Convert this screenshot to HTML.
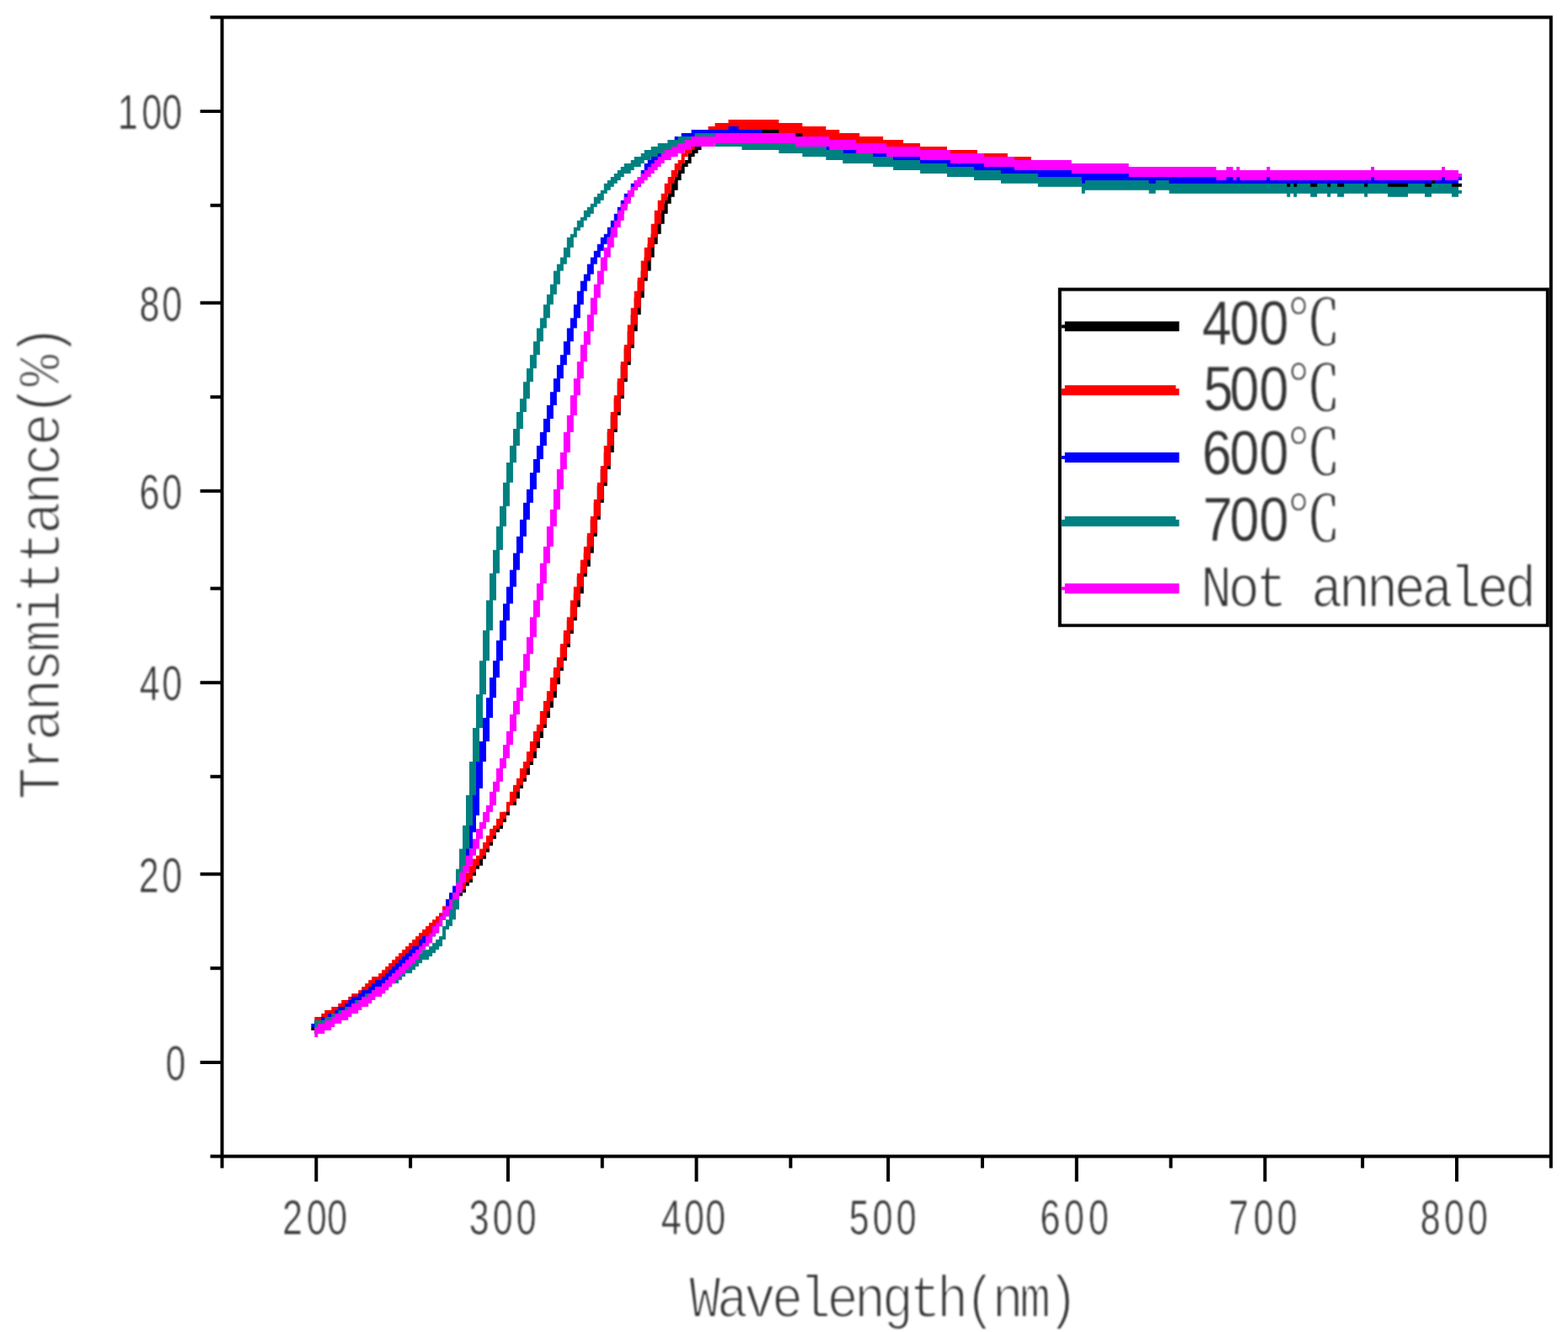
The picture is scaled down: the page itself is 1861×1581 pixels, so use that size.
<!DOCTYPE html>
<html lang="en">
<head>
<meta charset="utf-8">
<title>Transmittance vs Wavelength</title>
<style>
html,body{margin:0;padding:0;background:#fff;}
body{width:1861px;height:1581px;overflow:hidden;}
svg{display:block;}
.mono{font-family:"Liberation Mono",monospace;}
.num{font-family:"Liberation Sans",sans-serif;}
.leg{font-family:"Liberation Sans","Noto Serif CJK SC",sans-serif;}
</style>
</head>
<body>
<svg width="1861" height="1581" viewBox="0 0 1861 1581">
<defs>
<filter id="soft" color-interpolation-filters="sRGB" x="-2%" y="-2%" width="104%" height="104%"><feGaussianBlur stdDeviation="0.45"/></filter>
<filter id="softtext" color-interpolation-filters="sRGB" x="-5%" y="-5%" width="110%" height="110%"><feGaussianBlur stdDeviation="0.9"/></filter>
</defs>
<rect width="1861" height="1581" fill="#fff"/>
<g id="axes" filter="url(#soft)">
<path fill="#000" d="M261.55 18.44H265.54V1386.53H261.55zM1838.78 18.44H1842.77V1386.53H1838.78zM249.57 18.44H1842.77V22.43H249.57zM249.57 1370.58H1842.77V1374.57H249.57zM237.59 1258.9H261.55V1262.89H237.59zM237.59 1035.54H261.55V1039.53H237.59zM237.59 808.19H261.55V812.18H237.59zM237.59 580.84H261.55V584.83H237.59zM237.59 357.48H261.55V361.46H237.59zM237.59 130.13H261.55V134.11H237.59zM249.57 1147.22H261.55V1151.21H249.57zM249.57 919.87H261.55V923.86H249.57zM249.57 696.51H261.55V700.5H249.57zM249.57 469.16H261.55V473.14H249.57zM249.57 241.81H261.55V245.79H249.57zM373.35 1374.57H377.34V1402.49H373.35zM600.95 1374.57H604.94V1402.49H600.95zM824.56 1374.57H828.55V1402.49H824.56zM1052.16 1374.57H1056.15V1402.49H1052.16zM1275.77 1374.57H1279.76V1402.49H1275.77zM1499.38 1374.57H1503.37V1402.49H1499.38zM1726.98 1374.57H1730.97V1402.49H1726.98zM485.15 1374.57H489.15V1386.53H485.15zM712.75 1374.57H716.75V1386.53H712.75zM936.36 1374.57H940.36V1386.53H936.36zM1163.96 1374.57H1167.96V1386.53H1163.96zM1387.57 1374.57H1391.56V1386.53H1387.57zM1615.17 1374.57H1619.16V1386.53H1615.17z"/>
</g>
<g id="curves" filter="url(#soft)">
<path fill="#000000" d="M369.36 1219.01H373.35V1223H369.36zM373.35 1215.02H381.33V1226.99H373.35zM381.33 1211.04H385.33V1223H381.33zM385.33 1207.05H393.31V1219.01H385.33zM393.31 1203.06H401.3V1215.02H393.31zM401.3 1199.07H405.29V1211.04H401.3zM405.29 1195.08H413.28V1207.05H405.29zM413.28 1191.09H417.27V1203.06H413.28zM417.27 1187.1H425.26V1199.07H417.27zM425.26 1183.12H429.25V1195.08H425.26zM429.25 1179.13H433.24V1191.09H429.25zM433.24 1175.14H437.24V1187.1H433.24zM437.24 1171.15H441.23V1183.12H437.24zM441.23 1167.16H449.22V1179.13H441.23zM449.22 1163.17H453.21V1175.14H449.22zM453.21 1159.18H457.2V1171.15H453.21zM457.2 1155.2H461.19V1167.16H457.2zM461.19 1151.21H465.19V1163.17H461.19zM465.19 1147.22H469.18V1159.18H465.19zM469.18 1143.23H473.17V1155.2H469.18zM473.17 1139.24H477.17V1151.21H473.17zM477.17 1135.25H481.16V1147.22H477.17zM481.16 1131.26H485.15V1143.23H481.16zM485.15 1127.28H489.15V1139.24H485.15zM489.15 1123.29H493.14V1135.25H489.15zM493.14 1119.3H497.13V1131.26H493.14zM497.13 1115.31H501.12V1127.28H497.13zM501.12 1111.32H505.12V1123.29H501.12zM505.12 1107.33H509.11V1119.3H505.12zM509.11 1103.34H513.1V1115.31H509.11zM513.1 1099.36H517.1V1111.32H513.1zM517.1 1095.37H521.09V1107.33H517.1zM521.09 1087.39H525.08V1099.36H521.09zM525.08 1079.41H529.08V1091.38H525.08zM529.08 1071.43H533.07V1083.4H529.08zM533.07 1067.45H537.06V1079.41H533.07zM537.06 1063.46H541.05V1075.42H537.06zM541.05 1055.48H545.05V1067.45H541.05zM545.05 1051.49H549.04V1063.46H545.05zM549.04 1047.5H553.03V1059.47H549.04zM553.03 1039.53H557.03V1051.49H553.03zM557.03 1031.55H561.02V1047.5H557.03zM561.02 1027.56H565.01V1039.53H561.02zM565.01 1019.58H569.01V1031.55H565.01zM569.01 1011.61H573V1027.56H569.01zM573 1003.63H576.99V1019.58H573zM576.99 995.65H580.99V1011.61H576.99zM580.99 987.67H584.98V1003.63H580.99zM584.98 983.69H588.97V995.65H584.98zM588.97 975.71H592.96V987.67H588.97zM592.96 967.73H596.96V983.69H592.96zM596.96 963.74H600.95V975.71H596.96zM600.95 955.77H604.94V967.73H600.95zM604.94 947.79H608.94V955.77H604.94zM608.94 935.82H612.93V955.77H608.94zM612.93 927.85H616.92V947.79H612.93zM616.92 919.87H620.91V935.82H616.92zM620.91 907.9H624.91V927.85H620.91zM624.91 899.92H628.9V919.87H624.91zM628.9 887.96H632.89V907.9H628.9zM632.89 875.99H636.89V899.92H632.89zM636.89 864.03H640.88V887.96H636.89zM640.88 852.06H644.87V875.99H640.88zM644.87 840.1H648.87V864.03H644.87zM648.87 828.13H652.86V852.06H648.87zM652.86 812.18H656.85V840.1H652.86zM656.85 796.22H660.85V828.13H656.85zM660.85 784.26H664.84V812.18H660.85zM664.84 768.3H668.83V796.22H664.84zM668.83 752.35H672.82V784.26H668.83zM672.82 736.39H676.82V768.3H672.82zM676.82 720.44H680.81V752.35H676.82zM680.81 704.48H684.8V736.39H680.81zM684.8 684.54H688.8V720.44H684.8zM688.8 672.57H692.79V704.48H688.8zM692.79 656.62H696.78V684.54H692.79zM696.78 636.68H700.77V672.57H696.78zM700.77 616.73H704.77V656.62H700.77zM704.77 596.79H708.76V636.68H704.77zM708.76 576.85H712.75V616.73H708.76zM712.75 556.91H716.75V596.79H712.75zM716.75 536.96H720.74V576.85H716.75zM720.74 513.03H724.73V556.91H720.74zM724.73 493.09H728.73V536.96H724.73zM728.73 473.14H732.72V513.03H728.73zM732.72 453.2H736.71V493.09H732.72zM736.71 433.26H740.7V473.14H736.71zM740.7 413.32H744.7V453.2H740.7zM744.7 393.37H748.69V433.26H744.7zM748.69 373.43H752.68V413.32H748.69zM752.68 353.49H756.68V393.37H752.68zM756.68 333.54H760.67V373.43H756.68zM760.67 321.58H764.66V353.49H760.67zM764.66 305.62H768.66V333.54H764.66zM768.66 289.67H772.65V321.58H768.66zM772.65 277.7H776.64V305.62H772.65zM776.64 265.74H780.63V289.67H776.64zM780.63 253.77H784.63V277.7H780.63zM784.63 241.81H788.62V265.74H784.63zM788.62 233.83H792.61V253.77H788.62zM792.61 225.85H796.61V241.81H792.61zM796.61 213.89H800.6V233.83H796.61zM800.6 205.91H804.59V225.85H800.6zM804.59 197.93H808.59V213.89H804.59zM808.59 193.94H812.58V205.91H808.59zM812.58 189.95H816.57V197.93H812.58zM816.57 181.98H820.56V193.94H816.57zM820.56 174H824.56V185.97H820.56zM824.56 170.01H828.55V181.98H824.56zM828.55 166.02H832.54V177.99H828.55zM832.54 162.03H840.53V174H832.54zM840.53 158.05H864.49V170.01H840.53zM864.49 154.06H884.45V166.02H864.49zM884.45 150.07H924.38V162.03H884.45zM924.38 154.06H956.33V166.02H924.38zM956.33 158.05H980.28V170.01H956.33zM980.28 162.03H992.26V174H980.28zM992.26 166.02H1012.23V177.99H992.26zM1012.23 170.01H1036.19V181.98H1012.23zM1036.19 174H1052.16V185.97H1036.19zM1052.16 177.99H1072.12V189.95H1052.16zM1072.12 181.98H1092.09V193.94H1072.12zM1092.09 185.97H1124.03V197.93H1092.09zM1124.03 189.95H1155.98V201.92H1124.03zM1155.98 193.94H1187.92V205.91H1155.98zM1187.92 197.93H1231.84V209.9H1187.92zM1231.84 201.92H1283.75V213.89H1231.84zM1283.75 205.91H1351.63V217.87H1283.75zM1351.63 209.9H1447.47V221.86H1351.63zM1447.47 213.89H1730.97V225.85H1447.47zM1730.97 217.87H1734.96V221.86H1730.97z"/>
<path fill="#ff0000" d="M373.35 1207.05H381.33V1219.01H373.35zM381.33 1203.06H385.33V1215.02H381.33zM385.33 1199.07H393.31V1211.04H385.33zM393.31 1195.08H401.3V1207.05H393.31zM401.3 1191.09H405.29V1203.06H401.3zM405.29 1187.1H413.28V1199.07H405.29zM413.28 1183.12H417.27V1195.08H413.28zM417.27 1179.13H425.26V1191.09H417.27zM425.26 1175.14H429.25V1187.1H425.26zM429.25 1171.15H433.24V1183.12H429.25zM433.24 1167.16H437.24V1179.13H433.24zM437.24 1163.17H441.23V1175.14H437.24zM441.23 1159.18H449.22V1171.15H441.23zM449.22 1155.2H453.21V1167.16H449.22zM453.21 1151.21H457.2V1163.17H453.21zM457.2 1147.22H461.19V1159.18H457.2zM461.19 1143.23H465.19V1155.2H461.19zM465.19 1139.24H469.18V1151.21H465.19zM469.18 1135.25H473.17V1147.22H469.18zM473.17 1131.26H477.17V1143.23H473.17zM477.17 1127.28H481.16V1139.24H477.17zM481.16 1123.29H485.15V1135.25H481.16zM485.15 1119.3H489.15V1131.26H485.15zM489.15 1115.31H493.14V1127.28H489.15zM493.14 1111.32H497.13V1123.29H493.14zM497.13 1107.33H501.12V1119.3H497.13zM501.12 1103.34H505.12V1115.31H501.12zM505.12 1099.36H509.11V1111.32H505.12zM509.11 1095.37H513.1V1107.33H509.11zM513.1 1091.38H517.1V1103.34H513.1zM517.1 1087.39H521.09V1099.36H517.1zM521.09 1083.4H525.08V1095.37H521.09zM525.08 1075.42H529.08V1087.39H525.08zM529.08 1067.45H533.07V1079.41H529.08zM533.07 1063.46H537.06V1075.42H533.07zM537.06 1059.47H541.05V1071.43H537.06zM541.05 1055.48H545.05V1067.45H541.05zM545.05 1047.5H549.04V1059.47H545.05zM549.04 1043.51H553.03V1055.48H549.04zM553.03 1035.54H557.03V1047.5H553.03zM557.03 1027.56H561.02V1043.51H557.03zM561.02 1019.58H565.01V1035.54H561.02zM565.01 1015.59H569.01V1027.56H565.01zM569.01 1007.62H573V1019.58H569.01zM573 999.64H576.99V1015.59H573zM576.99 991.66H580.99V1007.62H576.99zM580.99 983.69H584.98V999.64H580.99zM584.98 979.7H588.97V991.66H584.98zM588.97 971.72H592.96V983.69H588.97zM592.96 963.74H596.96V979.7H592.96zM596.96 963.74H600.95V971.72H596.96zM600.95 951.78H604.94V963.74H600.95zM604.94 939.81H608.94V955.77H604.94zM608.94 931.83H612.93V951.78H608.94zM612.93 923.86H616.92V939.81H612.93zM616.92 911.89H620.91V931.83H616.92zM620.91 903.91H624.91V923.86H620.91zM624.91 891.95H628.9V911.89H624.91zM628.9 879.98H632.89V903.91H628.9zM632.89 868.02H636.89V891.95H632.89zM636.89 860.04H640.88V879.98H636.89zM640.88 844.08H644.87V868.02H640.88zM644.87 832.12H648.87V860.04H644.87zM648.87 820.15H652.86V844.08H648.87zM652.86 804.2H656.85V832.12H652.86zM656.85 792.23H660.85V820.15H656.85zM660.85 780.27H664.84V804.2H660.85zM664.84 764.31H668.83V792.23H664.84zM668.83 748.36H672.82V780.27H668.83zM672.82 732.4H676.82V764.31H672.82zM676.82 712.46H680.81V748.36H676.82zM680.81 696.51H684.8V732.4H680.81zM684.8 680.55H688.8V712.46H684.8zM688.8 664.6H692.79V696.51H688.8zM692.79 648.64H696.78V680.55H692.79zM696.78 632.69H700.77V664.6H696.78zM700.77 612.75H704.77V648.64H700.77zM704.77 592.8H708.76V632.69H704.77zM708.76 572.86H712.75V612.75H708.76zM712.75 552.92H716.75V592.8H712.75zM716.75 528.99H720.74V572.86H716.75zM720.74 509.04H724.73V552.92H720.74zM724.73 489.1H728.73V528.99H724.73zM728.73 469.16H732.72V509.04H728.73zM732.72 449.21H736.71V489.1H732.72zM736.71 429.27H740.7V469.16H736.71zM740.7 409.33H744.7V449.21H740.7zM744.7 385.4H748.69V429.27H744.7zM748.69 365.45H752.68V409.33H748.69zM752.68 345.51H756.68V385.4H752.68zM756.68 329.56H760.67V365.45H756.68zM760.67 309.61H764.66V345.51H760.67zM764.66 293.66H768.66V329.56H764.66zM768.66 281.69H772.65V309.61H768.66zM772.65 265.74H776.64V293.66H772.65zM776.64 249.78H780.63V281.69H776.64zM780.63 237.82H784.63V265.74H780.63zM784.63 229.84H788.62V249.78H784.63zM788.62 217.87H792.61V237.82H788.62zM792.61 209.9H796.61V229.84H792.61zM796.61 201.92H800.6V217.87H796.61zM800.6 193.94H804.59V209.9H800.6zM804.59 189.95H808.59V201.92H804.59zM808.59 181.98H812.58V193.94H808.59zM812.58 174H816.57V185.97H812.58zM816.57 170.01H820.56V181.98H816.57zM820.56 166.02H824.56V177.99H820.56zM824.56 162.03H828.55V174H824.56zM828.55 158.05H836.54V170.01H828.55zM836.54 154.06H840.53V166.02H836.54zM840.53 150.07H848.52V162.03H840.53zM848.52 146.08H864.49V158.05H848.52zM864.49 142.09H924.38V154.06H864.49zM924.38 146.08H952.33V158.05H924.38zM952.33 150.07H980.28V162.03H952.33zM980.28 154.06H996.26V166.02H980.28zM996.26 158.05H1020.21V170.01H996.26zM1020.21 162.03H1048.17V174H1020.21zM1048.17 166.02H1072.12V177.99H1048.17zM1072.12 170.01H1092.09V181.98H1072.12zM1092.09 174H1124.03V185.97H1092.09zM1124.03 177.99H1159.97V189.95H1124.03zM1159.97 181.98H1195.91V193.94H1159.97zM1195.91 185.97H1223.86V197.93H1195.91zM1223.86 189.95H1263.79V201.92H1223.86zM1263.79 193.94H1319.69V205.91H1263.79zM1319.69 197.93H1415.52V209.9H1319.69zM1415.52 201.92H1730.97V213.89H1415.52zM1730.97 205.91H1734.96V209.9H1730.97z"/>
<path fill="#0000ff" d="M369.36 1215.02H373.35V1219.01H369.36zM373.35 1211.04H381.33V1223H373.35zM381.33 1207.05H389.32V1219.01H381.33zM389.32 1203.06H397.31V1215.02H389.32zM397.31 1199.07H401.3V1211.04H397.31zM401.3 1195.08H409.29V1207.05H401.3zM409.29 1191.09H413.28V1203.06H409.29zM413.28 1187.1H417.27V1199.07H413.28zM417.27 1183.12H425.26V1195.08H417.27zM425.26 1179.13H429.25V1191.09H425.26zM429.25 1175.14H437.24V1187.1H429.25zM437.24 1171.15H441.23V1183.12H437.24zM441.23 1167.16H445.22V1179.13H441.23zM445.22 1163.17H453.21V1175.14H445.22zM453.21 1159.18H457.2V1171.15H453.21zM457.2 1155.2H461.19V1167.16H457.2zM461.19 1151.21H465.19V1163.17H461.19zM465.19 1147.22H469.18V1159.18H465.19zM469.18 1143.23H473.17V1155.2H469.18zM473.17 1139.24H477.17V1151.21H473.17zM477.17 1135.25H481.16V1147.22H477.17zM481.16 1131.26H485.15V1143.23H481.16zM485.15 1127.28H489.15V1139.24H485.15zM489.15 1123.29H497.13V1135.25H489.15zM497.13 1115.31H501.12V1127.28H497.13zM501.12 1111.32H509.11V1123.29H501.12zM509.11 1107.33H513.1V1119.3H509.11zM513.1 1099.36H517.1V1111.32H513.1zM517.1 1095.37H521.09V1107.33H517.1zM521.09 1087.39H525.08V1099.36H521.09zM525.08 1079.41H529.08V1091.38H525.08zM529.08 1067.45H533.07V1087.39H529.08zM533.07 1059.47H537.06V1079.41H533.07zM537.06 1051.49H541.05V1067.45H537.06zM541.05 1039.53H545.05V1059.47H541.05zM545.05 1023.57H549.04V1051.49H545.05zM549.04 1007.62H553.03V1039.53H549.04zM553.03 987.67H557.03V1023.57H553.03zM557.03 967.73H561.02V1007.62H557.03zM561.02 935.82H565.01V987.67H561.02zM565.01 903.91H569.01V967.73H565.01zM569.01 879.98H573V935.82H569.01zM573 852.06H576.99V903.91H573zM576.99 828.13H580.99V879.98H576.99zM580.99 804.2H584.98V852.06H580.99zM584.98 784.26H588.97V828.13H584.98zM588.97 760.32H592.96V804.2H588.97zM592.96 736.39H596.96V784.26H592.96zM596.96 716.45H600.95V760.32H596.96zM600.95 696.51H604.94V736.39H600.95zM604.94 676.56H608.94V716.45H604.94zM608.94 656.62H612.93V696.51H608.94zM612.93 636.68H616.92V676.56H612.93zM616.92 616.73H620.91V656.62H616.92zM620.91 596.79H624.91V636.68H620.91zM624.91 580.84H628.9V616.73H624.91zM628.9 560.89H632.89V596.79H628.9zM632.89 544.94H636.89V580.84H632.89zM636.89 528.99H640.88V560.89H636.89zM640.88 513.03H644.87V544.94H640.88zM644.87 497.08H648.87V528.99H644.87zM648.87 481.12H652.86V513.03H648.87zM652.86 465.17H656.85V497.08H652.86zM656.85 449.21H660.85V481.12H656.85zM660.85 433.26H664.84V465.17H660.85zM664.84 421.29H668.83V449.21H664.84zM668.83 405.34H672.82V433.26H668.83zM672.82 389.38H676.82V421.29H672.82zM676.82 377.42H680.81V405.34H676.82zM680.81 361.46H684.8V389.38H680.81zM684.8 345.51H688.8V377.42H684.8zM688.8 333.54H692.79V361.46H688.8zM692.79 325.57H696.78V345.51H692.79zM696.78 313.6H700.77V333.54H696.78zM700.77 305.62H704.77V325.57H700.77zM704.77 297.65H708.76V313.6H704.77zM708.76 289.67H712.75V305.62H708.76zM712.75 281.69H716.75V297.65H712.75zM716.75 277.7H720.74V289.67H716.75zM720.74 269.73H724.73V281.69H720.74zM724.73 261.75H728.73V277.7H724.73zM728.73 253.77H732.72V269.73H728.73zM732.72 245.79H736.71V261.75H732.72zM736.71 237.82H740.7V253.77H736.71zM740.7 229.84H744.7V245.79H740.7zM744.7 229.84H748.69V237.82H744.7zM748.69 217.87H752.68V229.84H748.69zM752.68 213.89H756.68V225.85H752.68zM756.68 209.9H760.67V221.86H756.68zM760.67 201.92H764.66V213.89H760.67zM764.66 193.94H768.66V205.91H764.66zM768.66 189.95H772.65V201.92H768.66zM772.65 185.97H776.64V197.93H772.65zM776.64 181.98H780.63V193.94H776.64zM780.63 177.99H784.63V189.95H780.63zM784.63 174H788.62V185.97H784.63zM788.62 170.01H792.61V181.98H788.62zM792.61 166.02H800.6V177.99H792.61zM800.6 162.03H808.59V174H800.6zM808.59 158.05H820.56V170.01H808.59zM820.56 154.06H864.49V166.02H820.56zM864.49 150.07H876.47V162.03H864.49zM876.47 154.06H904.42V166.02H876.47zM904.42 158.05H932.37V170.01H904.42zM932.37 162.03H980.28V174H932.37zM980.28 166.02H1000.25V177.99H980.28zM1000.25 170.01H1036.19V181.98H1000.25zM1036.19 174H1060.14V185.97H1036.19zM1060.14 177.99H1092.09V189.95H1060.14zM1092.09 181.98H1124.03V193.94H1092.09zM1124.03 185.97H1155.98V197.93H1124.03zM1155.98 189.95H1187.92V201.92H1155.98zM1187.92 193.94H1231.84V205.91H1187.92zM1231.84 197.93H1283.75V209.9H1231.84zM1283.75 205.91H1287.75V217.87H1283.75zM1287.75 201.92H1363.61V213.89H1287.75zM1363.61 205.91H1371.6V217.87H1363.61zM1371.6 201.92H1387.57V213.89H1371.6zM1387.57 205.91H1699.02V217.87H1387.57zM1699.02 201.92H1703.02V213.89H1699.02zM1703.02 205.91H1730.97V217.87H1703.02zM1730.97 209.9H1734.96V213.89H1730.97z"/>
<path fill="#008080" d="M373.35 1211.04H385.33V1223H373.35zM385.33 1207.05H393.31V1219.01H385.33zM393.31 1203.06H401.3V1215.02H393.31zM401.3 1199.07H409.29V1211.04H401.3zM409.29 1195.08H417.27V1207.05H409.29zM417.27 1191.09H421.26V1203.06H417.27zM421.26 1187.1H429.25V1199.07H421.26zM429.25 1183.12H433.24V1195.08H429.25zM433.24 1179.13H441.23V1191.09H433.24zM441.23 1175.14H445.22V1187.1H441.23zM445.22 1171.15H453.21V1183.12H445.22zM453.21 1167.16H457.2V1179.13H453.21zM457.2 1163.17H461.19V1175.14H457.2zM461.19 1159.18H465.19V1171.15H461.19zM465.19 1155.2H473.17V1167.16H465.19zM473.17 1151.21H477.17V1163.17H473.17zM477.17 1147.22H481.16V1159.18H477.17zM481.16 1143.23H489.15V1155.2H481.16zM489.15 1139.24H493.14V1151.21H489.15zM493.14 1135.25H497.13V1147.22H493.14zM497.13 1131.26H501.12V1143.23H497.13zM501.12 1127.28H509.11V1139.24H501.12zM509.11 1123.29H513.1V1135.25H509.11zM513.1 1119.3H517.1V1131.26H513.1zM517.1 1115.31H521.09V1127.28H517.1zM521.09 1111.32H525.08V1123.29H521.09zM525.08 1099.36H529.08V1115.31H525.08zM529.08 1091.38H533.07V1103.34H529.08zM533.07 1079.41H537.06V1099.36H533.07zM537.06 1059.47H541.05V1091.38H537.06zM541.05 1031.55H545.05V1079.41H541.05zM545.05 1007.62H549.04V1059.47H545.05zM549.04 979.7H553.03V1031.55H549.04zM553.03 943.8H557.03V1007.62H553.03zM557.03 903.91H561.02V979.7H557.03zM561.02 864.03H565.01V943.8H561.02zM565.01 824.14H569.01V903.91H565.01zM569.01 784.26H573V864.03H569.01zM573 748.36H576.99V824.14H573zM576.99 712.46H580.99V784.26H576.99zM580.99 680.55H584.98V748.36H580.99zM584.98 652.63H588.97V712.46H584.98zM588.97 624.71H592.96V680.55H588.97zM592.96 600.78H596.96V652.63H592.96zM596.96 572.86H600.95V624.71H596.96zM600.95 548.93H604.94V600.78H600.95zM604.94 528.99H608.94V572.86H604.94zM608.94 509.04H612.93V548.93H608.94zM612.93 489.1H616.92V528.99H612.93zM616.92 473.14H620.91V509.04H616.92zM620.91 453.2H624.91V489.1H620.91zM624.91 437.25H628.9V473.14H624.91zM628.9 421.29H632.89V453.2H628.9zM632.89 405.34H636.89V437.25H632.89zM636.89 389.38H640.88V421.29H636.89zM640.88 377.42H644.87V405.34H640.88zM644.87 361.46H648.87V389.38H644.87zM648.87 349.5H652.86V377.42H648.87zM652.86 337.53H656.85V361.46H652.86zM656.85 321.58H660.85V349.5H656.85zM660.85 313.6H664.84V337.53H660.85zM664.84 305.62H668.83V321.58H664.84zM668.83 293.66H672.82V313.6H668.83zM672.82 281.69H676.82V305.62H672.82zM676.82 277.7H680.81V293.66H676.82zM680.81 269.73H684.8V281.69H680.81zM684.8 261.75H688.8V273.71H684.8zM688.8 257.76H692.79V269.73H688.8zM692.79 249.78H696.78V261.75H692.79zM696.78 245.79H700.77V257.76H696.78zM700.77 241.81H704.77V253.77H700.77zM704.77 233.83H708.76V245.79H704.77zM708.76 229.84H712.75V241.81H708.76zM712.75 225.85H716.75V237.82H712.75zM716.75 217.87H720.74V229.84H716.75zM720.74 213.89H724.73V225.85H720.74zM724.73 209.9H728.73V221.86H724.73zM728.73 205.91H732.72V217.87H728.73zM732.72 201.92H736.71V213.89H732.72zM736.71 197.93H740.7V209.9H736.71zM740.7 193.94H748.69V205.91H740.7zM748.69 189.95H752.68V201.92H748.69zM752.68 185.97H760.67V197.93H752.68zM760.67 181.98H764.66V193.94H760.67zM764.66 177.99H772.65V189.95H764.66zM772.65 174H780.63V185.97H772.65zM780.63 170.01H792.61V181.98H780.63zM792.61 166.02H804.59V177.99H792.61zM804.59 162.03H824.56V174H804.59zM824.56 158.05H848.52V170.01H824.56zM848.52 162.03H880.46V174H848.52zM880.46 166.02H924.38V177.99H880.46zM924.38 170.01H952.33V181.98H924.38zM952.33 174H980.28V185.97H952.33zM980.28 177.99H1000.25V189.95H980.28zM1000.25 181.98H1036.19V193.94H1000.25zM1036.19 185.97H1060.14V197.93H1036.19zM1060.14 189.95H1092.09V201.92H1060.14zM1092.09 193.94H1124.03V205.91H1092.09zM1124.03 197.93H1155.98V209.9H1124.03zM1155.98 201.92H1187.92V213.89H1155.98zM1187.92 205.91H1231.84V217.87H1187.92zM1231.84 209.9H1283.75V221.86H1231.84zM1283.75 217.87H1287.75V229.84H1283.75zM1287.75 213.89H1363.61V225.85H1287.75zM1363.61 217.87H1371.6V229.84H1363.61zM1371.6 213.89H1387.57V225.85H1371.6zM1387.57 217.87H1527.33V229.84H1387.57zM1527.33 221.86H1531.32V233.83H1527.33zM1531.32 217.87H1535.31V229.84H1531.32zM1535.31 221.86H1539.31V233.83H1535.31zM1539.31 217.87H1555.28V229.84H1539.31zM1555.28 221.86H1563.26V233.83H1555.28zM1563.26 217.87H1575.24V229.84H1563.26zM1575.24 221.86H1579.23V233.83H1575.24zM1579.23 217.87H1587.22V229.84H1579.23zM1587.22 221.86H1595.21V233.83H1587.22zM1595.21 217.87H1619.16V229.84H1595.21zM1619.16 221.86H1623.16V233.83H1619.16zM1623.16 217.87H1647.12V229.84H1623.16zM1647.12 221.86H1671.07V233.83H1647.12zM1671.07 217.87H1691.04V229.84H1671.07zM1691.04 221.86H1699.02V233.83H1691.04zM1699.02 217.87H1722.98V229.84H1699.02zM1722.98 221.86H1730.97V233.83H1722.98zM1730.97 225.85H1734.96V229.84H1730.97z"/>
<path fill="#ff00ff" d="M373.35 1219.01H377.34V1230.98H373.35zM377.34 1215.02H385.33V1226.99H377.34zM385.33 1211.04H393.31V1223H385.33zM393.31 1207.05H397.31V1219.01H393.31zM397.31 1203.06H405.29V1215.02H397.31zM405.29 1199.07H413.28V1211.04H405.29zM413.28 1195.08H417.27V1207.05H413.28zM417.27 1191.09H425.26V1203.06H417.27zM425.26 1187.1H429.25V1199.07H425.26zM429.25 1183.12H437.24V1195.08H429.25zM437.24 1179.13H441.23V1191.09H437.24zM441.23 1175.14H445.22V1187.1H441.23zM445.22 1171.15H453.21V1183.12H445.22zM453.21 1167.16H457.2V1179.13H453.21zM457.2 1163.17H461.19V1175.14H457.2zM461.19 1159.18H465.19V1171.15H461.19zM465.19 1155.2H469.18V1167.16H465.19zM469.18 1151.21H473.17V1163.17H469.18zM473.17 1147.22H477.17V1159.18H473.17zM477.17 1143.23H481.16V1155.2H477.17zM481.16 1139.24H485.15V1151.21H481.16zM485.15 1135.25H489.15V1147.22H485.15zM489.15 1131.26H493.14V1143.23H489.15zM493.14 1127.28H497.13V1139.24H493.14zM497.13 1123.29H501.12V1131.26H497.13zM501.12 1119.3H505.12V1127.28H501.12zM505.12 1111.32H509.11V1123.29H505.12zM509.11 1107.33H513.1V1119.3H509.11zM513.1 1099.36H517.1V1111.32H513.1zM517.1 1095.37H521.09V1107.33H517.1zM521.09 1087.39H525.08V1099.36H521.09zM525.08 1079.41H529.08V1091.38H525.08zM529.08 1075.42H533.07V1087.39H529.08zM533.07 1067.45H537.06V1079.41H533.07zM537.06 1059.47H541.05V1067.45H537.06zM541.05 1047.5H545.05V1067.45H541.05zM545.05 1035.54H549.04V1059.47H545.05zM549.04 1027.56H553.03V1047.5H549.04zM553.03 1015.59H557.03V1035.54H553.03zM557.03 1007.62H561.02V1027.56H557.03zM561.02 995.65H565.01V1015.59H561.02zM565.01 983.69H569.01V1007.62H565.01zM569.01 975.71H573V995.65H569.01zM573 963.74H576.99V983.69H573zM576.99 955.77H580.99V975.71H576.99zM580.99 939.81H584.98V963.74H580.99zM584.98 927.85H588.97V955.77H584.98zM588.97 911.89H592.96V939.81H588.97zM592.96 899.92H596.96V927.85H592.96zM596.96 883.97H600.95V911.89H596.96zM600.95 868.02H604.94V899.92H600.95zM604.94 848.07H608.94V883.97H604.94zM608.94 832.12H612.93V868.02H608.94zM612.93 816.16H616.92V848.07H612.93zM616.92 796.22H620.91V832.12H616.92zM620.91 776.28H624.91V816.16H620.91zM624.91 756.34H628.9V796.22H624.91zM628.9 732.4H632.89V776.28H628.9zM632.89 712.46H636.89V756.34H632.89zM636.89 692.52H640.88V732.4H636.89zM640.88 668.59H644.87V712.46H640.88zM644.87 648.64H648.87V692.52H644.87zM648.87 624.71H652.86V668.59H648.87zM652.86 604.77H656.85V648.64H652.86zM656.85 580.84H660.85V624.71H656.85zM660.85 556.91H664.84V604.77H660.85zM664.84 536.96H668.83V580.84H664.84zM668.83 513.03H672.82V556.91H668.83zM672.82 493.09H676.82V536.96H672.82zM676.82 469.16H680.81V513.03H676.82zM680.81 449.21H684.8V493.09H680.81zM684.8 429.27H688.8V469.16H684.8zM688.8 409.33H692.79V449.21H688.8zM692.79 393.37H696.78V429.27H692.79zM696.78 373.43H700.77V409.33H696.78zM700.77 353.49H704.77V393.37H700.77zM704.77 337.53H708.76V373.43H704.77zM708.76 321.58H712.75V353.49H708.76zM712.75 305.62H716.75V337.53H712.75zM716.75 293.66H720.74V321.58H716.75zM720.74 281.69H724.73V305.62H720.74zM724.73 269.73H728.73V293.66H724.73zM728.73 261.75H732.72V281.69H728.73zM732.72 249.78H736.71V269.73H732.72zM736.71 241.81H740.7V261.75H736.71zM740.7 233.83H744.7V249.78H740.7zM744.7 225.85H748.69V241.81H744.7zM748.69 221.86H752.68V233.83H748.69zM752.68 213.89H756.68V225.85H752.68zM756.68 209.9H760.67V221.86H756.68zM760.67 205.91H764.66V217.87H760.67zM764.66 201.92H768.66V213.89H764.66zM768.66 197.93H772.65V209.9H768.66zM772.65 193.94H776.64V205.91H772.65zM776.64 189.95H780.63V201.92H776.64zM780.63 185.97H784.63V197.93H780.63zM784.63 181.98H788.62V193.94H784.63zM788.62 177.99H796.61V189.95H788.62zM796.61 174H804.59V185.97H796.61zM804.59 170.01H812.58V181.98H804.59zM812.58 166.02H820.56V177.99H812.58zM820.56 162.03H848.52V174H820.56zM848.52 158.05H944.35V170.01H848.52zM944.35 162.03H984.28V174H944.35zM984.28 166.02H1016.22V177.99H984.28zM1016.22 170.01H1052.16V181.98H1016.22zM1052.16 174H1092.09V185.97H1052.16zM1092.09 177.99H1128.03V189.95H1092.09zM1128.03 181.98H1167.96V193.94H1128.03zM1167.96 185.97H1203.89V197.93H1167.96zM1203.89 189.95H1271.77V201.92H1203.89zM1271.77 193.94H1339.65V205.91H1271.77zM1339.65 197.93H1443.47V209.9H1339.65zM1443.47 201.92H1455.45V213.89H1443.47zM1455.45 197.93H1463.44V209.9H1455.45zM1463.44 201.92H1467.43V213.89H1463.44zM1467.43 197.93H1471.42V209.9H1467.43zM1471.42 201.92H1503.37V213.89H1471.42zM1503.37 197.93H1507.36V209.9H1503.37zM1507.36 201.92H1627.15V213.89H1507.36zM1627.15 197.93H1631.14V209.9H1627.15zM1631.14 201.92H1711V213.89H1631.14zM1711 197.93H1715V209.9H1711zM1715 201.92H1730.97V213.89H1715zM1730.97 205.91H1734.96V209.9H1730.97z"/>
</g>
<g id="legend" filter="url(#soft)">
<path fill="#000" d="M1255.8 341.52H1259.8V744.37H1255.8zM1834.79 341.52H1838.78V744.37H1834.79zM1255.8 341.52H1838.78V345.51H1255.8zM1255.8 740.38H1838.78V744.37H1255.8z"/>
<path fill="#000000" d="M1263.79 381.41H1399.55V393.37H1263.79zM1259.8 385.4H1263.79V389.38H1259.8z"/>
<path fill="#ff0000" d="M1263.79 457.19H1395.56V461.18H1263.79zM1259.8 461.18H1399.55V469.16H1259.8z"/>
<path fill="#0000ff" d="M1263.79 536.96H1399.55V548.93H1263.79zM1259.8 540.95H1263.79V544.94H1259.8z"/>
<path fill="#008080" d="M1263.79 612.75H1395.56V616.73H1263.79zM1259.8 616.73H1399.55V624.71H1259.8z"/>
<path fill="#ff00ff" d="M1263.79 692.52H1399.55V704.48H1263.79zM1259.8 696.51H1263.79V700.5H1259.8z"/>
</g>
<g id="ticklabels" filter="url(#softtext)" class="num" font-size="57" fill="#333" stroke="#fff" stroke-width="0.7">
<text x="185.69 223.84 255.62" transform="translate(0,153.22) scale(0.752,1)">100</text>
<text x="220.02 255.76" transform="translate(0,380.57) scale(0.752,1)">80</text>
<text x="220.23 255.76" transform="translate(0,603.93) scale(0.752,1)">60</text>
<text x="220.50 255.76" transform="translate(0,831.28) scale(0.752,1)">40</text>
<text x="219.22 255.76" transform="translate(0,1058.63) scale(0.752,1)">20</text>
<text x="261.34" transform="translate(0,1281.99) scale(0.752,1)">0</text>
<text x="445.82 484.21 516.39" transform="translate(0,1465.30) scale(0.752,1)">200</text>
<text x="740.39 777.70 814.93" transform="translate(0,1465.30) scale(0.752,1)">300</text>
<text x="1043.50 1079.96 1113.34" transform="translate(0,1465.30) scale(0.752,1)">400</text>
<text x="1340.01 1377.30 1414.67" transform="translate(0,1465.30) scale(0.752,1)">500</text>
<text x="1641.64 1679.56 1718.26" transform="translate(0,1465.30) scale(0.752,1)">600</text>
<text x="1938.98 1978.36 2015.60" transform="translate(0,1465.30) scale(0.752,1)">700</text>
<text x="2241.83 2279.29 2316.66" transform="translate(0,1465.30) scale(0.752,1)">800</text>
</g>
<g id="titles" filter="url(#softtext)" class="mono" fill="#333" stroke="#fff" stroke-width="1.7">
<text font-size="62" textLength="462" lengthAdjust="spacing" transform="translate(818,1563.2) scale(1,1.125)">Wavelength(nm)</text>
<text font-size="64" textLength="563.8" lengthAdjust="spacing" transform="translate(70.3,949.2) rotate(-90) scale(1,1.09)">Transmittance(%)</text>
</g>
<g id="legendlabels" filter="url(#softtext)" fill="#333">
<text class="leg" font-size="73.4" stroke="#fff" stroke-width="0.3" x="1666.77 1705.08 1745.97 1784.99" transform="translate(0,409.0) scale(0.856,1)">400℃</text>
<text class="leg" font-size="73.4" stroke="#fff" stroke-width="0.3" x="1668.79 1705.08 1745.97 1784.99" transform="translate(0,486.5) scale(0.856,1)">500℃</text>
<text class="leg" font-size="73.4" stroke="#fff" stroke-width="0.3" x="1666.82 1705.08 1745.97 1784.99" transform="translate(0,563.0) scale(0.856,1)">600℃</text>
<text class="leg" font-size="73.4" stroke="#fff" stroke-width="0.3" x="1667.99 1705.08 1745.97 1784.99" transform="translate(0,642.3) scale(0.856,1)">700℃</text>
<text class="mono" font-size="62" textLength="398.4" lengthAdjust="spacing" stroke="#fff" stroke-width="1.4" transform="translate(1424.9,719.6) scale(1,1.125)">Not annealed</text>
</g>
</svg>
</body>
</html>
